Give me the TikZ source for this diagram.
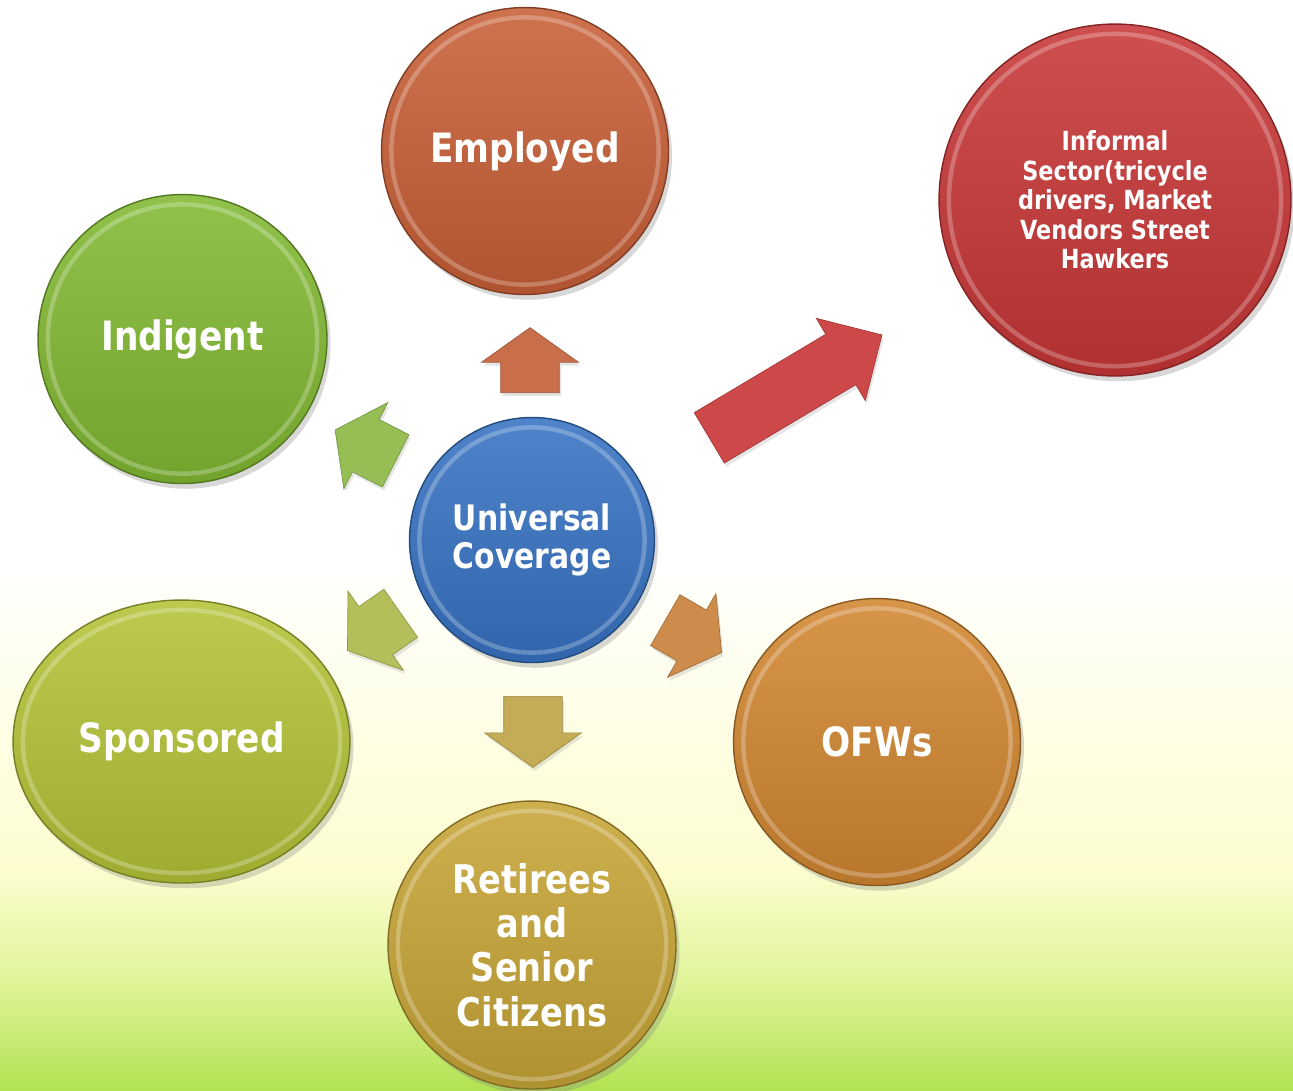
\documentclass[tikz,border=0pt]{standalone}
\usepackage{fontspec}
\setmainfont{DejaVu Sans}[FakeStretch=0.85]
\usetikzlibrary{calc}
\usetikzlibrary{shapes.geometric}
\usetikzlibrary{shapes.arrows}
\usetikzlibrary{shadows}
\definecolor{emp-orange}{RGB}{200, 95, 55}
\definecolor{inf-red}{RGB}{200, 55, 55}
\definecolor{ind-green}{RGB}{130, 185, 50}
\definecolor{uni-blue}{RGB}{55, 115, 195}
\definecolor{spo-lime}{RGB}{180, 195, 55}
\definecolor{ofw-amber}{RGB}{210, 135, 50}
\definecolor{ret-gold}{RGB}{200, 165, 55}
\definecolor{arr-up}{RGB}{200, 110, 75}
\definecolor{arr-red}{RGB}{205, 72, 72}
\definecolor{arr-green}{RGB}{150, 190, 85}
\definecolor{arr-lime}{RGB}{180, 190, 90}
\definecolor{arr-gold}{RGB}{195, 172, 85}
\definecolor{arr-amber}{RGB}{205, 140, 75}
\definecolor{bg-cream}{RGB}{253, 253, 208}
\definecolor{bg-lime}{RGB}{222, 244, 150}
\definecolor{bg-green}{RGB}{178, 226, 82}
\tikzset{
  bubble/.style={circle, draw=#1!65!black, line width=0.8pt, top color=#1!88!white,
    bottom color=#1!88!black, text=white, align=center, inner sep=0pt,
    font=\bfseries\fontsize{23}{26}\selectfont,
    drop shadow={opacity=0.3, shadow xshift=2pt, shadow yshift=-3pt}},
  rim/.style={draw=white, opacity=0.25, line width=2.5pt},
  blockarrow/.style={single arrow, fill=#1, draw=#1!80!black, line width=0.4pt,
    inner xsep=0pt, inner ysep=0.58cm, single arrow head extend=0.38cm,
    single arrow tip angle=109, anchor=tail,
    drop shadow={opacity=0.2, shadow xshift=1pt, shadow yshift=-2pt}}
}
\begin{document}
\begin{tikzpicture}[x=0.02cm, y=-0.02cm]
\useasboundingbox (0,0) rectangle (1293,1090);
\fill[white] (0,0) rectangle (1293,561);
\shade[top color=white, bottom color=bg-cream] (0,560) rectangle (1293,871);
\shade[top color=bg-cream, bottom color=bg-lime] (0,870) rectangle (1293,986);
\shade[top color=bg-lime, bottom color=bg-green] (0,985) rectangle (1293,1090);

\node[bubble=emp-orange, minimum size=5.74cm] (emp) at (525,151) {Employed};
\node[bubble=inf-red, minimum size=7.04cm, font=\bfseries\fontsize{15}{16.8}\selectfont] (inf) at (1115,200)
  {Informal\\Sector(tricycle\\drivers, Market\\Vendors Street\\Hawkers};
\node[bubble=ind-green, minimum size=5.78cm] (ind) at (182.5,339) {Indigent};
\node[bubble=uni-blue, minimum size=4.9cm, font=\bfseries\fontsize{20}{22}\selectfont] (uni) at (532,540)
  {Universal\\Coverage};
\node[bubble=spo-lime, ellipse, minimum width=6.74cm, minimum height=5.66cm] (spo) at (181.5,741.5) {Sponsored};
\node[bubble=ofw-amber, minimum size=5.74cm] (ofw) at (877,742) {OFWs};
\node[bubble=ret-gold, minimum size=5.76cm, font=\bfseries\fontsize{22.5}{25.3}\selectfont] (ret) at (532,945)
  {Retirees\\and\\Senior\\Citizens};

\foreach \nd in {emp,inf,ind,uni,spo,ofw,ret}
  \draw[rim] let \p0=(\nd.center), \p1=(\nd.east), \p2=(\nd.north) in
    (\p0) ellipse ({\x1-\x0-6pt} and {\y2-\y0-6pt});

\node[blockarrow=arr-up, minimum height=1.3cm, rotate=90] (toemp) at (530,393) {};
\node[blockarrow=arr-gold, minimum height=1.42cm, rotate=-90] (toret) at (533,696) {};
\node[blockarrow=arr-green, minimum height=1.36cm, rotate=153] (toind) at (396,461) {};
\node[blockarrow=arr-lime, minimum height=1.3cm, rotate=-145] (tospo) at (401,613) {};
\node[blockarrow=arr-amber, minimum height=1.3cm, rotate=-30] (toofw) at (665,620) {};
\node[blockarrow=arr-red, minimum height=4.02cm, single arrow head extend=0.37cm,
  single arrow tip angle=90, rotate=30.8] (toinf) at (709,438) {};
\end{tikzpicture}
\end{document}
